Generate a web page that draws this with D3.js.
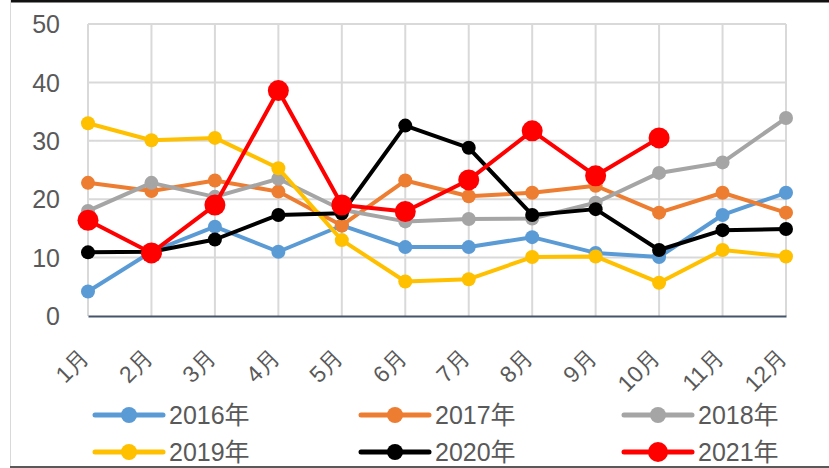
<!DOCTYPE html>
<html>
<head>
<meta charset="utf-8">
<script src="https://cdn.jsdelivr.net/npm/d3@7"></script>
<style>
  body { margin: 0; background: #fff; }
  svg { display: block; font-family: "Liberation Sans", Arial, "Noto Sans CJK SC", sans-serif; }
</style>
</head>
<body>
<div id="chart"></div>
<script>
const months = ['1月', '2月', '3月', '4月', '5月', '6月', '7月', '8月', '9月', '10月', '11月', '12月'];
const yTicks = [0, 10, 20, 30, 40, 50];

const v2016 = [4.2, 11.0, 15.3, 11.0, 15.5, 11.8, 11.8, 13.5, 10.8, 10.1, 17.3, 21.1];
const v2017 = [22.8, 21.4, 23.2, 21.3, 15.5, 23.2, 20.5, 21.1, 22.3, 17.7, 21.1, 17.7];
const v2018 = [18.0, 22.8, 20.4, 23.5, 18.2, 16.2, 16.6, 16.7, 19.4, 24.5, 26.3, 33.9];
const v2019 = [33.0, 30.1, 30.5, 25.3, 13.0, 5.9, 6.3, 10.1, 10.2, 5.7, 11.3, 10.2];
const v2020 = [10.9, 11.0, 13.1, 17.3, 17.6, 32.6, 28.8, 17.3, 18.3, 11.3, 14.7, 14.9];
const v2021 = [16.4, 10.8, 19.0, 38.6, 19.0, 17.9, 23.3, 31.7, 24.0, 30.5, null, null];

const series = [
    { name: '2016年', values: v2016, color: '#5B9BD5', r: 7, w: 4 },
    { name: '2017年', values: v2017, color: '#ED7D31', r: 7, w: 4 },
    { name: '2018年', values: v2018, color: '#A5A5A5', r: 7, w: 4 },
    { name: '2019年', values: v2019, color: '#FFC000', r: 7, w: 4 },
    { name: '2020年', values: v2020, color: '#000000', r: 7, w: 4 },
    { name: '2021年', values: v2021, color: '#FF0000', r: 10.5, w: 4 }
];

const width = 829, height = 468;
const plot = { left: 88, right: 786, top: 24, bottom: 316 };

const svg = d3.select('#chart').append('svg')
    .attr('width', width)
    .attr('height', height);

// chart frame: heavy top edge, light left edge, dark bottom edge
svg.append('line').attr('x1', 10).attr('x2', width).attr('y1', 1).attr('y2', 1)
    .attr('stroke', '#111').attr('stroke-width', 3);
svg.append('line').attr('x1', 10.5).attr('x2', 10.5).attr('y1', 0).attr('y2', height)
    .attr('stroke', '#d9d9d9').attr('stroke-width', 1);
svg.append('line').attr('x1', 10).attr('x2', width).attr('y1', 467).attr('y2', 467)
    .attr('stroke', '#595959').attr('stroke-width', 2);

const x = d3.scalePoint().domain(months).range([plot.left, plot.right]);
const y = d3.scaleLinear().domain([0, 50]).range([plot.bottom, plot.top]);

const grid = svg.append('g');
grid.selectAll('.hg').data(yTicks.filter(t => t > 0)).join('line')
    .attr('x1', plot.left).attr('x2', plot.right)
    .attr('y1', d => y(d)).attr('y2', d => y(d))
    .attr('stroke', '#d9d9d9').attr('stroke-width', 2);
grid.selectAll('.vg').data(months).join('line')
    .attr('x1', d => x(d)).attr('x2', d => x(d))
    .attr('y1', plot.top).attr('y2', plot.bottom)
    .attr('stroke', '#d9d9d9').attr('stroke-width', 2);

// y axis labels
const yAxis = svg.append('g')
    .attr('transform', `translate(${plot.left - 28},0)`)
    .call(d3.axisLeft(y).tickValues(yTicks).tickSize(0).tickPadding(0));
yAxis.select('.domain').remove();
yAxis.selectAll('text')
    .attr('fill', '#595959')
    .style('font-size', '25px')
    .attr('dy', '0.35em');

// x axis
const xAxis = svg.append('g')
    .attr('transform', `translate(0,${plot.bottom})`)
    .call(d3.axisBottom(x).tickSize(0).tickPadding(0));
xAxis.select('.domain')
    .attr('stroke', '#44546A').attr('stroke-width', 2);
xAxis.selectAll('text')
    .attr('fill', '#595959')
    .style('font-size', '23px')
    .attr('text-anchor', 'end')
    .attr('dy', 0)
    .attr('y', 0)
    .attr('transform', 'translate(2,43) rotate(-45)');

const line = d3.line()
    .defined(d => d != null)
    .x((d, i) => x(months[i]))
    .y(d => y(d));

series.forEach(s => {
    const g = svg.append('g');
    g.append('path')
        .datum(s.values)
        .attr('fill', 'none')
        .attr('stroke', s.color)
        .attr('stroke-width', s.w)
        .attr('stroke-linejoin', 'round')
        .attr('d', line);
    g.selectAll('circle')
        .data(s.values.map((v, i) => ({ v, m: months[i] })).filter(d => d.v != null))
        .join('circle')
        .attr('cx', d => x(d.m))
        .attr('cy', d => y(d.v))
        .attr('r', s.r)
        .attr('fill', s.color);
});

// legend
const legendCols = [95, 361, 624];
const legendRows = [415, 452];
const legend = svg.append('g');
series.forEach((s, i) => {
    const lx = legendCols[i % 3], ly = legendRows[Math.floor(i / 3)];
    const item = legend.append('g').attr('transform', `translate(${lx},${ly})`);
    item.append('line')
        .attr('x1', 0).attr('x2', 68)
        .attr('stroke', s.color).attr('stroke-width', 5)
        .attr('stroke-linecap', 'round');
    item.append('circle')
        .attr('cx', 34).attr('r', s.r === 7 ? 8 : 10)
        .attr('fill', s.color);
    item.append('text')
        .attr('x', 74).attr('dy', '0.35em')
        .attr('fill', '#595959')
        .style('font-size', '25px')
        .text(s.name);
});
</script>
</body>
</html>
